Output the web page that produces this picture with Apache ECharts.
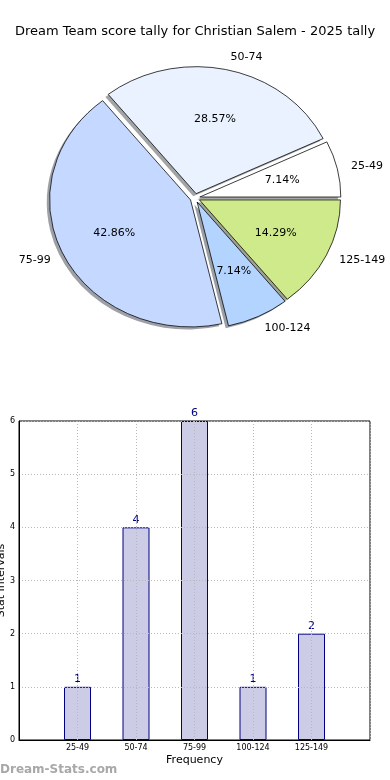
<!DOCTYPE html>
<html>
<head>
<meta charset="utf-8">
<script src="https://cdn.jsdelivr.net/npm/echarts@6/dist/echarts.min.js"></script>
<style>
html,body{margin:0;padding:0;background:#fff;}
#c{width:390px;height:780px;}
</style>
</head>
<body>
<div id="c"></div>
<script>
// ---- data ----
const titleText = 'Dream Team score tally for Christian Salem - 2025 tally';
const categories = ['25-49', '50-74', '75-99', '100-124', '125-149'];
const counts = [1, 4, 6, 1, 2];
const sliceColors = ['#ffffff', '#eaf2ff', '#c5d8ff', '#b3d4ff', '#cfea8a'];
const explode = [0.035, 0.035, 0.035, 0.035, 0.035];
const yTicks = [0, 1, 2, 3, 4, 5, 6];

const FONT = 'DejaVu Sans';
const total = counts.reduce((a, b) => a + b, 0);
const cum = [];
counts.reduce((acc, v, i) => { cum[i] = acc; return acc + v; }, 0);

function shade(hex) {
  const n = parseInt(hex.slice(1), 16);
  const r = (n >> 16) & 255, g = (n >> 8) & 255, b = n & 255;
  return 'rgba(' + Math.round(r * 0.3) + ',' + Math.round(g * 0.3) + ',' + Math.round(b * 0.3) + ',0.5)';
}

function renderSlice(params, api) {
  const i = params.dataIndex;
  const v = api.value(1);
  const t1 = cum[i] / total * Math.PI * 2;
  const t2 = (cum[i] + v) / total * Math.PI * 2;
  const mid = (t1 + t2) / 2;
  const dx = Math.cos(mid), dy = Math.sin(mid);
  const e = explode[i];
  const o = api.coord([0, 0]);
  const rx = api.coord([1, 0])[0] - o[0];
  const ry = o[1] - api.coord([0, 1])[1];
  const c = api.coord([e * dx, e * dy]);
  const s = api.coord([e * dx - 0.02, e * dy - 0.02]);
  const sector = (cx, cy, style, z2) => ({
    type: 'sector',
    shape: { cx: cx, cy: cy, r: rx, r0: 0, startAngle: -t2, endAngle: -t1, clockwise: true },
    originX: cx, originY: cy, scaleY: ry / rx,
    style: style, z2: z2
  });
  const lab = api.coord([(e + 1.1) * dx, (e + 1.1) * dy]);
  const pct = api.coord([(e + 0.6) * dx, (e + 0.6) * dy]);
  return {
    type: 'group',
    children: [
      sector(s[0], s[1], { fill: shade(sliceColors[i]), stroke: null }, 0),
      sector(c[0], c[1], { fill: sliceColors[i], stroke: '#000', lineWidth: 0.8, strokeNoScale: true }, 10),
      { type: 'text', z2: 20, x: lab[0], y: lab[1],
        style: { text: categories[i], fill: '#000', font: '11px "' + FONT + '"',
                 align: dx >= 0 ? 'left' : 'right', verticalAlign: 'middle' } },
      { type: 'text', z2: 20, x: pct[0], y: pct[1],
        style: { text: (v / total * 100).toFixed(2) + '%', fill: '#000', font: '11px "' + FONT + '"',
                 align: 'center', verticalAlign: 'middle' } }
    ]
  };
}

const chart = echarts.init(document.getElementById('c'), null, { renderer: 'canvas' });
chart.setOption({
  animation: false,
  backgroundColor: '#fff',
  textStyle: { fontFamily: FONT },
  title: {
    text: titleText, left: 'center', top: 20,
    textStyle: { fontFamily: FONT, fontSize: 13, fontWeight: 'normal', color: '#000' }
  },
  graphic: [{
    type: 'text', left: 0, top: 764,
    style: { text: 'Dream-Stats.com', fill: '#a8a8a8', font: 'bold 12px "' + FONT + '"' }
  }],
  grid: [
    { left: 54, top: 71, width: 282, height: 254, show: false, outerBoundsMode: 'none', containLabel: false },
    { left: 19, top: 421, width: 351, height: 319, show: true, borderColor: '#000', borderWidth: 1,
      backgroundColor: 'transparent', outerBoundsMode: 'none', containLabel: false }
  ],
  xAxis: [
    { gridIndex: 0, type: 'value', min: -1, max: 1, show: false },
    {
      gridIndex: 1, type: 'value', min: -1, max: 5, interval: 1, z: 3,
      name: 'Frequency', nameLocation: 'middle', nameGap: 15, nameMoveOverlap: false,
      nameTextStyle: { fontFamily: FONT, fontSize: 11, color: '#000' },
      axisLine: { show: true, onZero: false, lineStyle: { color: '#000' } },
      axisTick: { show: false },
      axisLabel: { fontFamily: FONT, fontSize: 8, color: '#000', margin: 4,
                   formatter: (v) => categories[v] !== undefined ? categories[v] : '' },
      splitLine: { show: true, lineStyle: { color: '#b8b8b8', type: [1, 2], width: 1 } }
    }
  ],
  yAxis: [
    { gridIndex: 0, type: 'value', min: -1, max: 1, show: false },
    {
      gridIndex: 1, type: 'value', min: yTicks[0], max: yTicks[yTicks.length - 1], interval: 1, z: 3,
      name: 'Stat Intervals', nameLocation: 'middle', nameGap: 12, nameMoveOverlap: false,
      nameTextStyle: { fontFamily: FONT, fontSize: 11, color: '#000' },
      axisLine: { show: true, onZero: false, lineStyle: { color: '#000' } },
      axisTick: { show: false },
      axisLabel: { fontFamily: FONT, fontSize: 8, color: '#000', margin: 4 },
      splitLine: { show: true, lineStyle: { color: '#b8b8b8', type: [1, 2], width: 1 } }
    }
  ],
  series: [
    {
      type: 'custom', xAxisIndex: 0, yAxisIndex: 0,
      renderItem: renderSlice,
      data: categories.map((c, i) => [i, counts[i]])
    },
    {
      type: 'bar', xAxisIndex: 1, yAxisIndex: 1, barWidth: 27,
      itemStyle: { color: '#ccccE6', borderColor: '#000080', borderWidth: 1 },
      label: { show: true, position: 'top', distance: 2, color: '#000080', fontFamily: FONT, fontSize: 11 },
      data: categories.map((c, i) => [i, counts[i]])
    }
  ]
});
</script>
</body>
</html>
